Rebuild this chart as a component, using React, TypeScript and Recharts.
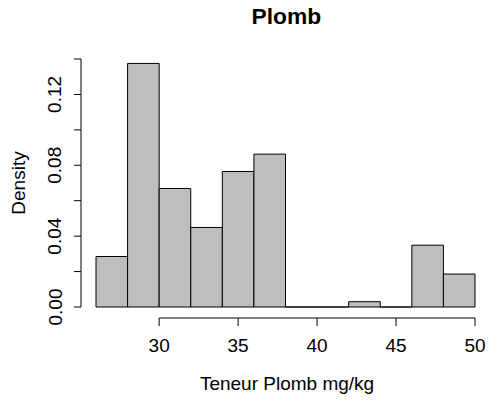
import { ComposedChart, Bar, XAxis, YAxis } from "recharts";

// histogram bins (width 2): midpoints and their densities
const binMids = [27, 29, 31, 33, 35, 37, 39, 41, 43, 45, 47, 49];
const density = [0.0285, 0.1375, 0.0669, 0.0449, 0.0765, 0.0863, 0, 0, 0.003, 0, 0.0349, 0.0186];
const BIN_WIDTH = 2;
const xTicks = [30, 35, 40, 45, 50];
const yTicks = [0, 0.02, 0.04, 0.06, 0.08, 0.1, 0.12, 0.14];

const data = binMids.map((mid, i) => ({ mid, density: density[i] }));

const CHART_W = 488;
const CHART_H = 403;
const Y_AXIS_W = 81;
const PLOT_W = CHART_W - Y_AXIS_W;
const X_DOMAIN: [number, number] = [25.05, 50.823];
const PX_PER_UNIT = PLOT_W / (X_DOMAIN[1] - X_DOMAIN[0]);
const FONT = '"Liberation Sans", Arial, sans-serif';
const FS = 19;

const HistBar = (props: any) => {
    const { x, y, width, height } = props;
    return (
        <path
            d={`M${x},${y}h${width}v${height}h${-width}Z`}
            fill="#bebebe"
            stroke="#000"
            strokeWidth={1}
        />
    );
};

// R style axis: line only from first to last tick
const XTick = (props: any) => {
    const { x, y, payload, index } = props;
    const step = index > 0 ? (xTicks[index] - xTicks[index - 1]) * PX_PER_UNIT : 0;
    return (
        <g>
            {index > 0 && <line x1={x - step} x2={x} y1={y} y2={y} stroke="#000" />}
            <line x1={x} x2={x} y1={y} y2={y + 8} stroke="#000" />
            <text x={x} y={y + 34} textAnchor="middle" fontSize={FS} fill="#000" fontFamily={FONT}>
                {payload.value}
            </text>
        </g>
    );
};

const YTick = (props: any) => {
    const { x, y, payload, index } = props;
    if (index % 2 !== 0) return <g />;
    const bx = x - 12.5;
    return (
        <text
            x={bx}
            y={y}
            transform={`rotate(-90, ${bx}, ${y})`}
            textAnchor="middle"
            fontSize={FS}
            fill="#000"
            fontFamily={FONT}
        >
            {payload.value.toFixed(2)}
        </text>
    );
};

export default function App() {
    return (
        <div style={{ position: "absolute", left: 0, top: 0, width: CHART_W, height: CHART_H, background: "#fff" }}>
            <div
                style={{
                    position: "absolute",
                    left: 0,
                    top: 4.6,
                    width: 572.6,
                    textAlign: "center",
                    fontFamily: FONT,
                    fontWeight: "bold",
                    fontSize: 22.8,
                    lineHeight: "23px",
                }}
            >
                Plomb
            </div>
            <ComposedChart
                width={CHART_W}
                height={CHART_H}
                data={data}
                margin={{ top: 59, right: 0, bottom: 35, left: 0 }}
            >
                {/* empty spacer axis: R draws its x axis a little below the bars */}
                <XAxis
                    xAxisId="a_spacer"
                    height={11}
                    tick={false}
                    tickLine={false}
                    axisLine={false}
                />
                <XAxis
                    xAxisId="b_num"
                    dataKey="mid"
                    type="number"
                    domain={X_DOMAIN}
                    ticks={xTicks}
                    interval={0}
                    allowDataOverflow
                    height={50}
                    axisLine={false}
                    tickLine={false}
                    tickSize={0}
                    tickMargin={0}
                    tick={<XTick />}
                    label={{
                        content: (p: any) => {
                            const vb = p.viewBox;
                            return (
                                <text
                                    x={vb.x + vb.width / 2 + 2.5}
                                    y={CHART_H - 13}
                                    textAnchor="middle"
                                    fontSize={FS}
                                    fill="#000"
                                    fontFamily={FONT}
                                >
                                    Teneur Plomb mg/kg
                                </text>
                            );
                        },
                    }}
                />
                <YAxis
                    width={Y_AXIS_W}
                    domain={[0, 0.14]}
                    ticks={yTicks}
                    interval={0}
                    stroke="#000"
                    tickLine={{ stroke: "#000" }}
                    tickSize={7}
                    tickMargin={0}
                    tick={<YTick />}
                    label={{
                        content: (p: any) => {
                            const vb = p.viewBox;
                            const lx = vb.x + 25;
                            const ly = vb.y + vb.height / 2;
                            return (
                                <text
                                    x={lx}
                                    y={ly}
                                    transform={`rotate(-90, ${lx}, ${ly})`}
                                    textAnchor="middle"
                                    fontSize={FS}
                                    fill="#000"
                                    fontFamily={FONT}
                                >
                                    Density
                                </text>
                            );
                        },
                    }}
                />
                <Bar
                    xAxisId="b_num"
                    dataKey="density"
                    barSize={BIN_WIDTH * PX_PER_UNIT - 0.01}
                    shape={<HistBar />}
                    isAnimationActive={false}
                />
            </ComposedChart>
        </div>
    );
}
